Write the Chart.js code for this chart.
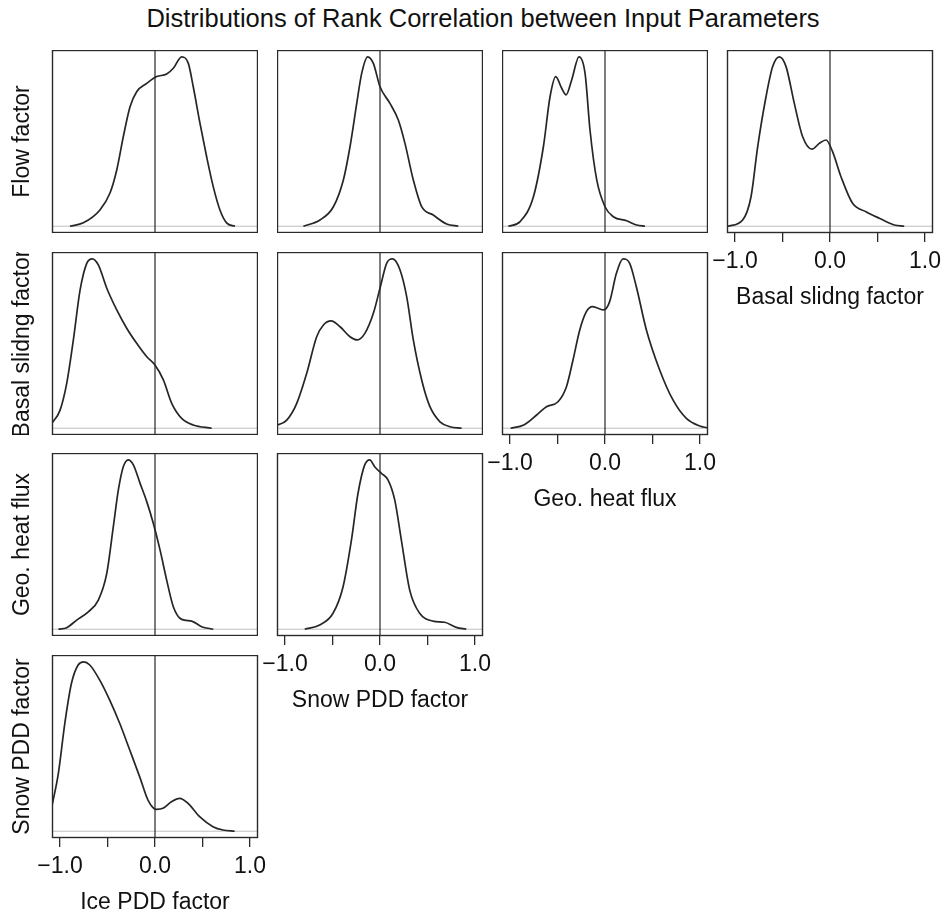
<!DOCTYPE html>
<html lang="en">
  <head>
    <meta charset="UTF-8" />
    <title>Distributions of Rank Correlation between Input Parameters</title>
    <script src="https://cdn.jsdelivr.net/npm/chart.js"></script>
    <style>
      body { margin: 0; background: #fff; overflow: hidden; }
      #page { position: relative; width: 945px; height: 916px; font-family: "Liberation Sans", Arial, sans-serif; }
      #title { position: absolute; left: 0; top: 6px; width: 966px; text-align: center; font-size: 25.5px; line-height: 25px; color: #111; }
      canvas { position: absolute; }
    </style>
  </head>
  <body>
    <div id="page">
      <div id="title">Distributions of Rank Correlation between Input Parameters</div>
    </div>

    <script>
      // parameter names (rows top to bottom, columns left to right)
      const rowLabels = ["Flow factor", "Basal slidng factor", "Geo. heat flux", "Snow PDD factor"];
      const colLabels = ["Ice PDD factor", "Snow PDD factor", "Geo. heat flux", "Basal slidng factor"];

      const tickValues = [-1, -0.5, 0, 0.5, 1];
      const tickLabels = ["\u22121.0", "", "0.0", "", "1.0"];

      // density curves (y scaled so each panel's peak = 1)
      const flowIceX = [-0.895, -0.755, -0.58, -0.474, -0.403, -0.334, -0.263, -0.193, -0.087, 0.018, 0.123, 0.193, 0.281, 0.351, 0.403, 0.474, 0.544, 0.614, 0.684, 0.754, 0.842];
      const flowIceY = [0, 0.02, 0.096, 0.196, 0.332, 0.528, 0.705, 0.794, 0.843, 0.883, 0.898, 0.932, 1.0, 0.961, 0.823, 0.607, 0.41, 0.232, 0.096, 0.02, 0];

      const flowSnowX = [-0.807, -0.632, -0.491, -0.386, -0.316, -0.245, -0.193, -0.13, -0.07, 0, 0.105, 0.193, 0.263, 0.351, 0.439, 0.561, 0.702, 0.825];
      const flowSnowY = [0, 0.037, 0.115, 0.273, 0.469, 0.725, 0.902, 1.0, 0.961, 0.823, 0.725, 0.627, 0.489, 0.273, 0.115, 0.066, 0.013, 0];

      const flowGeoX = [-1.018, -0.895, -0.754, -0.649, -0.579, -0.519, -0.456, -0.41, -0.351, -0.274, -0.21, -0.158, -0.087, 0, 0.088, 0.228, 0.334, 0.421];
      const flowGeoY = [0, 0.027, 0.174, 0.469, 0.764, 0.883, 0.814, 0.775, 0.863, 1.0, 0.902, 0.568, 0.273, 0.115, 0.056, 0.032, 0.007, 0];

      const flowBasalX = [-1.078, -0.92, -0.832, -0.762, -0.674, -0.604, -0.534, -0.463, -0.376, -0.288, -0.189, -0.113, -0.042, 0.027, 0.116, 0.238, 0.379, 0.519, 0.677, 0.782];
      const flowBasalY = [0, 0.037, 0.174, 0.469, 0.764, 0.942, 1.0, 0.942, 0.725, 0.528, 0.455, 0.489, 0.509, 0.44, 0.292, 0.135, 0.086, 0.047, 0.007, 0];

      const basalIceX = [-1.085, -1.0, -0.93, -0.86, -0.789, -0.719, -0.66, -0.597, -0.508, -0.403, -0.298, -0.193, -0.087, 0, 0.088, 0.176, 0.281, 0.403, 0.597];
      const basalIceY = [0.03, 0.107, 0.265, 0.521, 0.816, 0.973, 1.0, 0.964, 0.826, 0.698, 0.59, 0.501, 0.422, 0.373, 0.285, 0.147, 0.058, 0.019, 0];

      const basalSnowX = [-1.085, -0.982, -0.877, -0.772, -0.667, -0.596, -0.516, -0.421, -0.316, -0.239, -0.158, -0.07, 0, 0.07, 0.134, 0.211, 0.281, 0.351, 0.439, 0.526, 0.632, 0.737, 0.86];
      const basalSnowY = [0.017, 0.048, 0.147, 0.324, 0.54, 0.609, 0.633, 0.599, 0.54, 0.521, 0.561, 0.678, 0.826, 0.973, 1.0, 0.934, 0.777, 0.521, 0.285, 0.127, 0.038, 0.009, 0];

      const basalGeoX = [-0.995, -0.856, -0.72, -0.617, -0.495, -0.406, -0.337, -0.266, -0.196, -0.133, -0.074, -0.014, 0.049, 0.12, 0.19, 0.26, 0.33, 0.436, 0.576, 0.716, 0.857, 0.997, 1.074];
      const basalGeoY = [0, 0.019, 0.078, 0.127, 0.156, 0.245, 0.403, 0.58, 0.688, 0.718, 0.708, 0.698, 0.747, 0.914, 1.0, 0.973, 0.835, 0.58, 0.344, 0.167, 0.058, 0.013, 0.003];

      const geoIceX = [-1.018, -0.93, -0.825, -0.703, -0.597, -0.508, -0.439, -0.386, -0.334, -0.281, -0.228, -0.158, -0.087, -0.018, 0.053, 0.123, 0.193, 0.281, 0.386, 0.491, 0.614];
      const geoIceY = [0, 0.009, 0.054, 0.103, 0.172, 0.33, 0.605, 0.822, 0.959, 1.0, 0.97, 0.862, 0.753, 0.625, 0.468, 0.29, 0.133, 0.058, 0.048, 0.015, 0];

      const geoSnowX = [-0.793, -0.635, -0.495, -0.389, -0.301, -0.232, -0.161, -0.108, -0.056, 0.015, 0.084, 0.155, 0.225, 0.313, 0.418, 0.558, 0.681, 0.804, 0.909];
      const geoSnowY = [0, 0.025, 0.094, 0.251, 0.526, 0.801, 0.97, 1.0, 0.959, 0.92, 0.881, 0.763, 0.526, 0.231, 0.094, 0.048, 0.041, 0.011, 0];

      const snowIceX = [-1.085, -1.018, -0.95, -0.88, -0.81, -0.751, -0.687, -0.582, -0.477, -0.372, -0.266, -0.161, -0.074, 0.015, 0.084, 0.173, 0.26, 0.347, 0.47, 0.611, 0.716, 0.839];
      const snowIceY = [0.15, 0.342, 0.637, 0.873, 0.981, 1.0, 0.981, 0.892, 0.774, 0.637, 0.479, 0.321, 0.184, 0.129, 0.135, 0.174, 0.194, 0.165, 0.086, 0.027, 0.007, 0];

      const panels = [
        { row: 0, col: 0, xs: flowIceX, ys: flowIceY },
        { row: 0, col: 1, xs: flowSnowX, ys: flowSnowY },
        { row: 0, col: 2, xs: flowGeoX, ys: flowGeoY },
        { row: 0, col: 3, xs: flowBasalX, ys: flowBasalY },
        { row: 1, col: 0, xs: basalIceX, ys: basalIceY },
        { row: 1, col: 1, xs: basalSnowX, ys: basalSnowY },
        { row: 1, col: 2, xs: basalGeoX, ys: basalGeoY },
        { row: 2, col: 0, xs: geoIceX, ys: geoIceY },
        { row: 2, col: 1, xs: geoSnowX, ys: geoSnowY },
        { row: 3, col: 0, xs: snowIceX, ys: snowIceY },
      ];

      const X_MIN = -1.085, X_MAX = 1.085;
      const Y_MIN = -0.04, Y_MAX = 1.04;
      const PANEL_W = 206, PANEL_H = 183;
      const LEFT_AXIS = 52, BOTTOM_AXIS = 80;
      const SIDE = 28; // room for tick labels that stick out of the panel
      const rowTops = [50, 252, 453, 655];
      const colLefts = [52, 277, 502, 727];
      const labelFont = { family: "'Liberation Sans', Arial, sans-serif", size: 23 };

      // frame around each plot region
      const boxPlugin = {
        id: "box",
        afterDatasetsDraw(chart) {
          const { ctx, chartArea: a } = chart;
          ctx.save();
          ctx.strokeStyle = "#2a2a2a";
          ctx.lineWidth = 1.4;
          ctx.strokeRect(a.left + 0.5, a.top + 0.5, a.right - a.left - 1, a.bottom - a.top - 1);
          ctx.restore();
        },
      };

      const page = document.getElementById("page");

      panels.forEach((p) => {
        const diag = p.row + p.col === 3;
        const first = p.col === 0;
        const padL = diag && !first ? SIDE : 0;
        const padR = diag ? SIDE : 0;
        const canvas = document.createElement("canvas");
        canvas.width = PANEL_W + (first ? LEFT_AXIS : 0) + padL + padR;
        canvas.height = PANEL_H + (diag ? BOTTOM_AXIS : 0);
        canvas.style.left = (first ? 0 : colLefts[p.col] - padL) + "px";
        canvas.style.top = rowTops[p.row] + "px";
        page.appendChild(canvas);

        new Chart(canvas, {
          type: "line",
          data: {
            datasets: [
              {
                data: p.xs.map((x, i) => ({ x: x, y: p.ys[i] })),
                borderColor: "#262626",
                borderWidth: 1.7,
                pointRadius: 0,
                cubicInterpolationMode: "monotone",
                order: 0,
              },
              {
                data: [{ x: 0, y: Y_MIN }, { x: 0, y: Y_MAX }],
                borderColor: "#111",
                borderWidth: 1.1,
                pointRadius: 0,
                order: 1,
              },
              {
                data: [{ x: X_MIN, y: 0 }, { x: X_MAX, y: 0 }],
                borderColor: "#bebebe",
                borderWidth: 1,
                pointRadius: 0,
                order: 2,
              },
            ],
          },
          options: {
            animation: false,
            responsive: false,
            devicePixelRatio: 1,
            layout: { padding: { left: padL, right: padR, top: 0, bottom: 0 } },
            plugins: { legend: { display: false }, tooltip: { enabled: false } },
            scales: {
              x: {
                type: "linear",
                min: X_MIN,
                max: X_MAX,
                display: diag,
                afterBuildTicks: (s) => { s.ticks = tickValues.map((v) => ({ value: v })); },
                afterFit: (s) => {
                  s.height = diag ? BOTTOM_AXIS : 0;
                  s.paddingLeft = 0;
                  s.paddingRight = 0;
                },
                ticks: {
                  callback: (v, i) => tickLabels[i],
                  autoSkip: false,
                  maxRotation: 0,
                  padding: 6,
                  color: "#111",
                  font: labelFont,
                },
                grid: { drawOnChartArea: false, drawTicks: true, tickLength: 9, color: "#2a2a2a", lineWidth: 1.3 },
                border: { display: false },
                title: {
                  display: true,
                  text: colLabels[p.col],
                  color: "#111",
                  font: labelFont,
                  padding: { top: 0, bottom: 2 },
                },
              },
              y: {
                type: "linear",
                min: Y_MIN,
                max: Y_MAX,
                display: first,
                afterFit: (s) => {
                  s.width = first ? LEFT_AXIS : 0;
                  s.paddingTop = 0;
                  s.paddingBottom = 0;
                },
                ticks: { display: false },
                grid: { display: false },
                border: { display: false },
                title: {
                  display: true,
                  text: rowLabels[p.row],
                  color: "#111",
                  font: labelFont,
                  padding: { top: 9, bottom: 0 },
                },
              },
            },
          },
          plugins: [boxPlugin],
        });
      });
    </script>
  </body>
</html>
